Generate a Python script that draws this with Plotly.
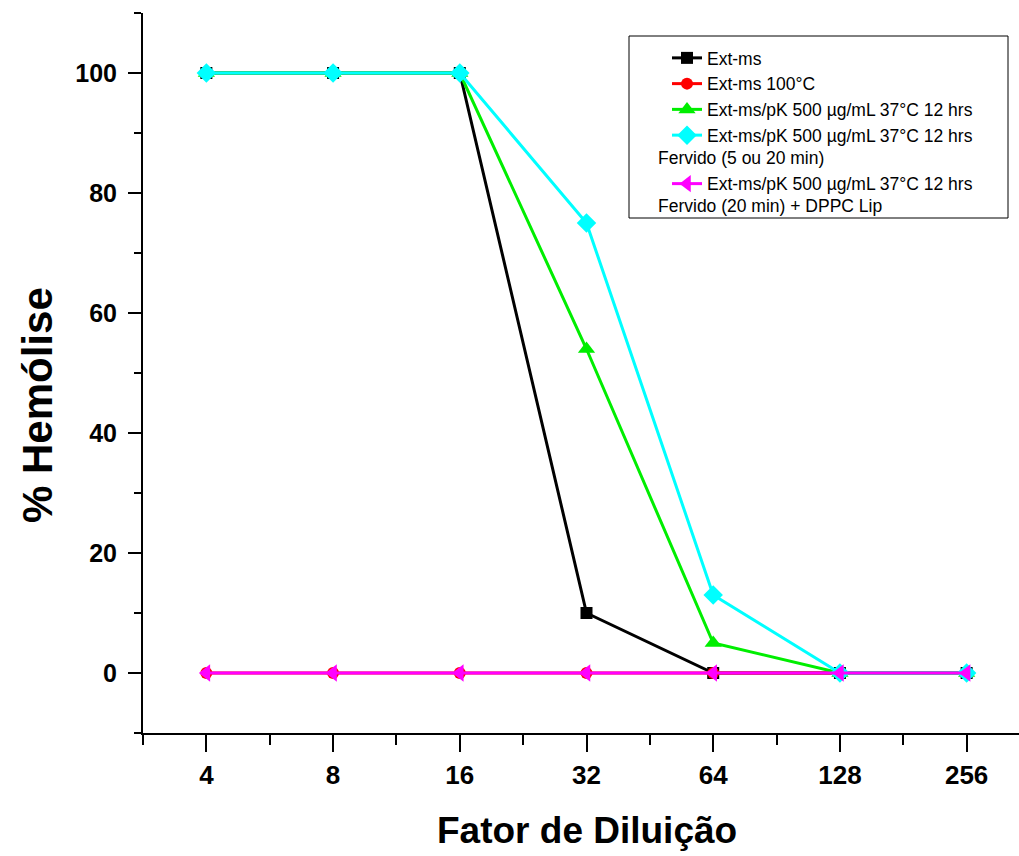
import numpy as np
import plotly.graph_objects as go

# Dilution factors (x) and % hemolysis for each sample
diluicao = [4, 8, 16, 32, 64, 128, 256]
ext_ms = [100, 100, 100, 10, 0, 0, 0]
ext_ms_100c = [0, 0, 0, 0, 0, 0, 0]
ext_pk = [100, 100, 100, 54, 5, 0, 0]
ext_pk_fervido = [100, 100, 100, 75, 13, 0, 0]
ext_pk_fervido_dppc = [0, 0, 0, 0, 0, 0, 0]

tick_labels = ["4", "8", "16", "32", "64", "128", "256"]
y_ticks = [0, 20, 40, 60, 80, 100]

NB = "\u00a0"
series = [
    ("Ext-ms", ext_ms, "#000000", "square", 12),
    ("Ext-ms 100°C", ext_ms_100c, "#ff0000", "circle", 12),
    ("Ext-ms/pK 500 µg/mL 37°C 12 hrs", ext_pk, "#00ee00", "triangle-up", 15),
    ("Ext-ms/pK 500 µg/mL 37°C 12 hrs<br>" + NB, ext_pk_fervido, "#00ffff", "diamond", 15),
    ("Ext-ms/pK 500 µg/mL 37°C 12 hrs<br>" + NB, ext_pk_fervido_dppc, "#ff00ff", "triangle-left", 15),
]

FONT = "Arial, 'Liberation Sans', sans-serif"
LEG_SIZE = 17.5

W, H = 1040, 856
L, R, T, B = 143, 10, 13, 123

fig = go.Figure()
for i, (name, vals, color, symbol, size) in enumerate(series):
    fig.add_trace(go.Scatter(
        x=diluicao, y=vals, name=name, mode="lines+markers",
        legendgroup=f"g{i}",
        line=dict(color=color, width=3),
        marker=dict(color=color, symbol=symbol, size=size, line=dict(width=0)),
    ))

# log2 spacing: half-step minor ticks between the doubling dilutions
lo, hi = 1.5, 8.5
xr = [lo * np.log10(2), hi * np.log10(2)]
minor_vals = [2 ** (k + 0.5) for k in range(1, 9)]

axis_common = dict(showline=True, linecolor="black", linewidth=2, zeroline=False,
                   showgrid=False)


def px_x(p):
    return (p - L) / (W - L - R)


def px_y(p):
    return (H - B - p) / (H - T - B)


fig.update_layout(
    width=W, height=H,
    margin=dict(l=L, r=R, t=T, b=B, pad=0),
    paper_bgcolor="white", plot_bgcolor="white",
    font=dict(family=FONT, color="black"),
    xaxis=dict(
        type="log", range=xr, tickmode="array", tickvals=diluicao, ticktext=tick_labels,
        ticks="outside", ticklen=17, tickwidth=2, tickcolor="black",
        minor=dict(tickmode="array", tickvals=minor_vals, ticks="outside", ticklen=10,
                   tickwidth=2, tickcolor="black"),
        tickfont=dict(size=26, family=FONT, weight="bold"),
        ticklabelstandoff=1,
        **axis_common,
    ),
    xaxis2=dict(
        type="log", range=xr, overlaying="x", side="top", tickmode="array",
        tickvals=diluicao, showticklabels=False,
        ticks="inside", ticklen=16, tickwidth=2, tickcolor="black",
        minor=dict(tickmode="array", tickvals=minor_vals, ticks="inside", ticklen=9,
                   tickwidth=2, tickcolor="black"),
        **axis_common,
    ),
    yaxis=dict(
        range=[-10, 110], tickmode="array", tickvals=y_ticks,
        ticks="outside", ticklen=13, tickwidth=2, tickcolor="black",
        minor=dict(dtick=10, tick0=0, ticks="outside", ticklen=7, tickwidth=2,
                   tickcolor="black"),
        tickfont=dict(size=25, family=FONT, weight="bold"),
        ticklabelstandoff=6,
        **axis_common,
    ),
    yaxis2=dict(
        range=[-10, 110], overlaying="y", side="right", tickmode="array",
        tickvals=y_ticks, showticklabels=False,
        ticks="inside", ticklen=14, tickwidth=2, tickcolor="black",
        minor=dict(dtick=10, tick0=0, ticks="inside", ticklen=7, tickwidth=2,
                   tickcolor="black"),
        **axis_common,
    ),
    legend=dict(
        x=px_x(667), xanchor="left",
        y=px_y(40), yanchor="top",
        bgcolor="rgba(0,0,0,0)", borderwidth=0,
        font=dict(size=LEG_SIZE, family=FONT),
        tracegroupgap=0, valign="top", itemwidth=30,
    ),
    showlegend=True,
)

# axis titles
fig.add_annotation(text="Fator de Diluição", xref="paper", yref="paper",
                   x=px_x(587), y=px_y(830), xanchor="center", yanchor="middle",
                   showarrow=False, font=dict(size=37, family=FONT, weight="bold"))
fig.add_annotation(text="% Hemólise", xref="paper", yref="paper",
                   x=px_x(37), y=px_y(405), xanchor="center", yanchor="middle",
                   textangle=-90, showarrow=False,
                   font=dict(size=42, family=FONT, weight="bold"))

# legend frame and the second text lines of the two long entries
fig.add_shape(type="rect", xref="paper", yref="paper",
              x0=px_x(629), x1=px_x(1008), y0=px_y(218), y1=px_y(36),
              line=dict(color="black", width=1), fillcolor="rgba(0,0,0,0)")
for txt, yp in [("Fervido (5 ou 20 min)", 158), ("Fervido (20 min) + DPPC Lip", 206)]:
    fig.add_annotation(text=txt, xref="paper", yref="paper", x=px_x(656), y=px_y(yp),
                       xanchor="left", yanchor="middle", showarrow=False,
                       font=dict(size=LEG_SIZE, family=FONT, color="black"))

fig.write_html(
    "out.html",
    post_script="document.body.style.margin='0';document.body.style.overflow='hidden';"
                "document.documentElement.style.overflow='hidden';",
)
